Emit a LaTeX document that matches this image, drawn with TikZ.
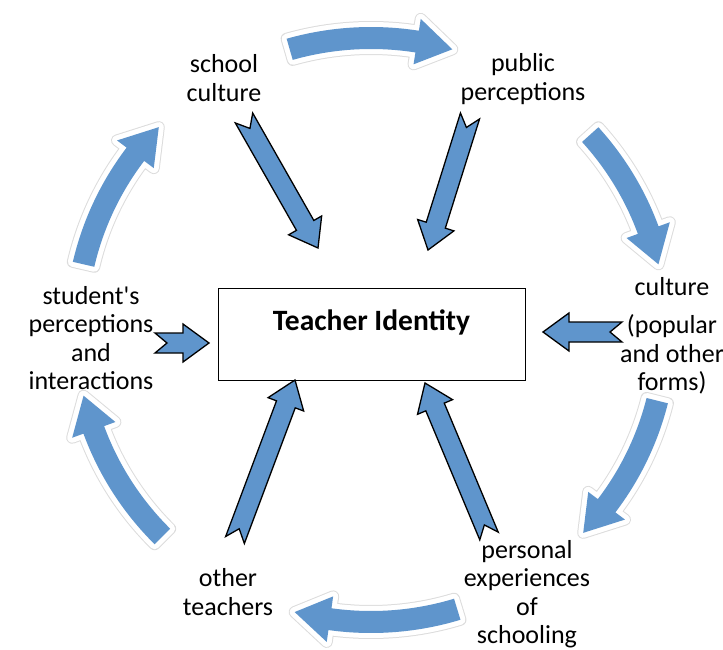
\documentclass[tikz,border=0pt]{standalone}
\usepackage{fontspec}
\setmainfont{Carlito}
\usepackage{tikz}
\usetikzlibrary{calc}

\definecolor{arrowblue}{RGB}{95,149,204}
\definecolor{haloline}{RGB}{220,220,220}

% straight block arrow with a notched tail, from #1 (tail) to #2 (tip)
\newcommand{\blockarrow}[2]{%
  \coordinate (hb) at ($(#2)!26pt!(#1)$);
  \draw[blockfill] ($(#1)!10pt!90:(#2)$) -- ($(hb)!10pt!-90:(#1)$) -- ($(hb)!19pt!-90:(#1)$) -- (#2)
    -- ($(hb)!19pt!90:(#1)$) -- ($(hb)!10pt!90:(#1)$) -- ($(#1)!10pt!-90:(#2)$) -- ($(#1)!12pt!(#2)$) -- cycle;
}

% curved arrow on the cycle round the centre (C), from angle #1 to angle #2
\newcommand{\cyclearrow}[2]{%
  \pgfmathsetmacro{\hbase}{#2-7}
  \fill[cyclefill] ($(C)+(#1:306 and 303)$) arc[start angle=#1, end angle=\hbase, x radius=306, y radius=303]
    -- ($(C)+(\hbase:318 and 315)$) -- ($(C)+(#2:295 and 292)$) -- ($(C)+(\hbase:272 and 269)$)
    -- ($(C)+(\hbase:284 and 281)$) arc[start angle=\hbase, end angle=#1, x radius=284, y radius=281] -- cycle;
}

\begin{document}
\begin{tikzpicture}[
    x=1pt, y=-1pt,
    influence/.style={font=\fontsize{26pt}{28.5pt}\selectfont, align=center, inner sep=0pt},
    core/.style={rectangle, draw, line width=1pt, minimum width=307pt, minimum height=92pt,
      font=\fontsize{29.5pt}{32pt}\selectfont\bfseries, text height=22pt, text depth=30pt},
    blockfill/.style={fill=arrowblue, draw=black, line width=1.3pt, line join=miter},
    cyclefill/.style={fill=arrowblue,
      preaction={draw=haloline, line width=12pt, line join=round},
      preaction={draw=white, line width=10pt, line join=round}}
    ]
\useasboundingbox (0,0) rectangle (723,650);
\coordinate (C) at (371,330);

% cycle of influences
\cyclearrow{-106}{-74}
\cyclearrow{-42}{-13}
\cyclearrow{14}{44}
\cyclearrow{73}{105}
\cyclearrow{135}{167}
\cyclearrow{193}{224}

\node[core] (ID) at (371.5,334) {Teacher Identity};

\node[influence] (SC) at (224,78) {school\\culture};
\node[influence] (PP) at (523,79) {public\\perceptions};
\node[influence] (CU) at (672,336) {culture\\[10pt](popular\\and other\\forms)};
\node[influence] (PE) at (527,594) {personal\\experiences\\of\\schooling};
\node[influence] (OT) at (228,592) {other\\teachers};
\node[influence] (SP) at (91,338) {student\textquotesingle s\\perceptions\\and\\interactions};

% arrows into the identity box
\coordinate (SC1) at (244,118); \coordinate (SC2) at (318,248);
\coordinate (PP1) at (470,116); \coordinate (PP2) at (428,250);
\coordinate (CU1) at (622,332); \coordinate (CU2) at (543,332);
\coordinate (PE1) at (489,536); \coordinate (PE2) at (425,383);
\coordinate (OT1) at (235,540); \coordinate (OT2) at (295,380);
\coordinate (SP1) at (155,343); \coordinate (SP2) at (209,343);
\blockarrow{SC1}{SC2}
\blockarrow{PP1}{PP2}
\blockarrow{CU1}{CU2}
\blockarrow{PE1}{PE2}
\blockarrow{OT1}{OT2}
\blockarrow{SP1}{SP2}
\end{tikzpicture}
\end{document}
